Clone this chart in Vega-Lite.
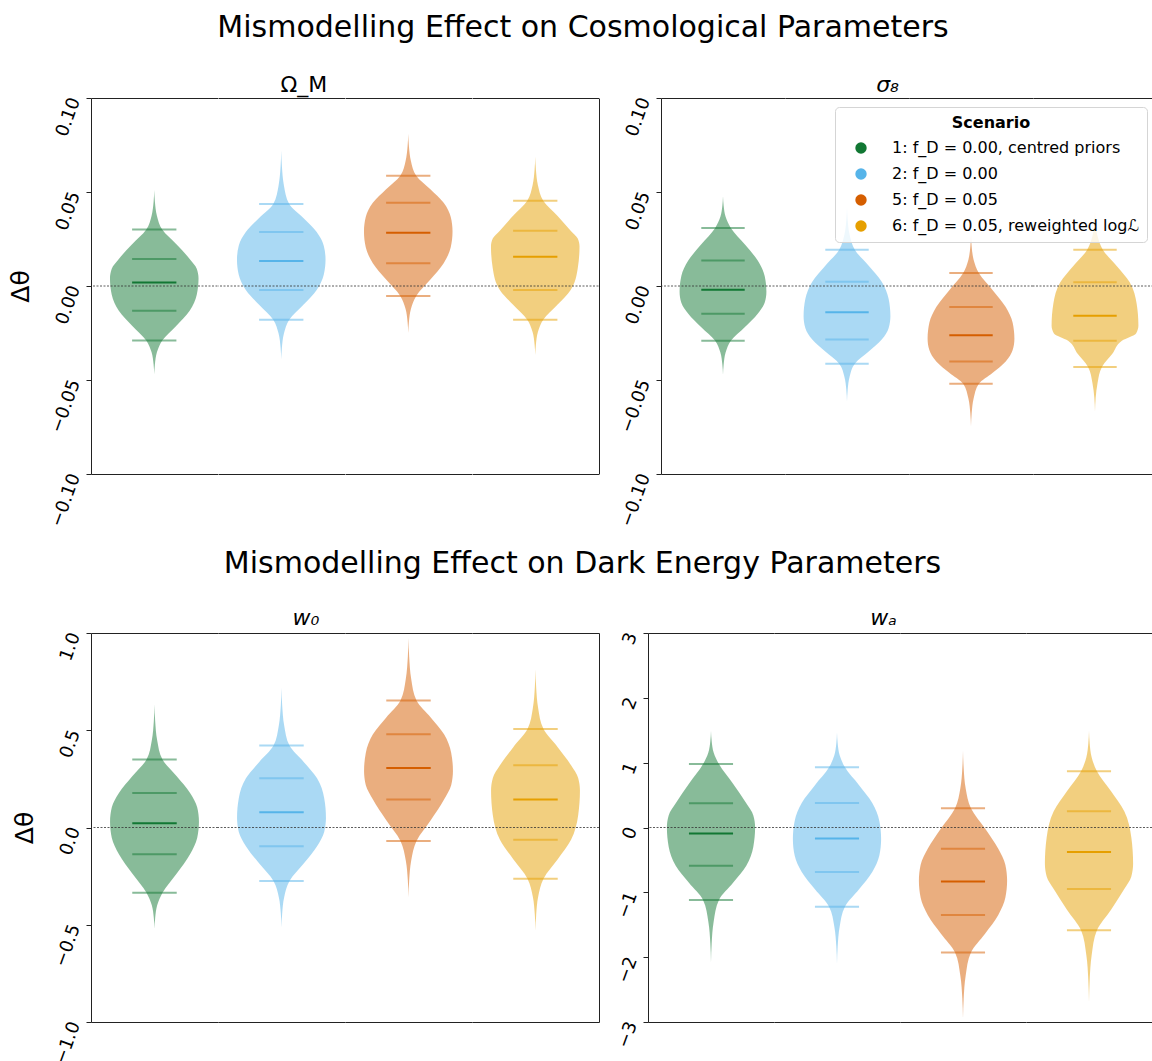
{
"$schema": "https://vega.github.io/schema/vega-lite/v6.json",
"padding": {"left": 8, "top": 12, "right": 0, "bottom": 0},
"config": {
 "font": "DejaVu Sans",
 "view": {"stroke": null},
 "axis": {"grid": false, "domainColor": "#222", "tickColor": "#222", "labelColor": "#000", "titleColor": "#000", "labelFontSize": 18, "tickSize": 5, "domainWidth": 1, "labelPadding": 11},
 "title": {"fontSize": 30, "fontWeight": "normal", "color": "#000", "anchor": "middle"},
 "legend": {"titleFontSize": 16, "titleFontWeight": "bold", "titleAnchor": "middle", "titleColor": "#000", "titlePadding": 9, "labelFontSize": 16, "labelColor": "#000", "symbolType": "circle", "symbolSize": 130, "symbolOpacity": 1, "symbolStrokeWidth": 0, "symbolOffset": 10, "fillColor": "rgba(255,255,255,0.8)", "strokeColor": "#d5d5d5", "cornerRadius": 4, "padding": 8, "rowPadding": 10, "labelLimit": 400, "labelOffset": 23}
},
"datasets": {
 "om": [
  {"s":"1","y":0.051,"d":0},{"s":"1","y":0.0447,"d":0.015},{"s":"1","y":0.0374,"d":0.06},{"s":"1","y":0.030,"d":0.18},{"s":"1","y":0.0222,"d":0.5},{"s":"1","y":0.0144,"d":0.8},{"s":"1","y":0.0092,"d":0.96},{"s":"1","y":0.004,"d":1},{"s":"1","y":-0.0046,"d":0.96},{"s":"1","y":-0.0131,"d":0.8},{"s":"1","y":-0.0211,"d":0.5},{"s":"1","y":-0.029,"d":0.18},{"s":"1","y":-0.0353,"d":0.06},{"s":"1","y":-0.0416,"d":0.015},{"s":"1","y":-0.047,"d":0},
  {"s":"2","y":0.072,"d":0},{"s":"2","y":0.0635,"d":0.015},{"s":"2","y":0.0535,"d":0.06},{"s":"2","y":0.0436,"d":0.18},{"s":"2","y":0.0362,"d":0.5},{"s":"2","y":0.0287,"d":0.8},{"s":"2","y":0.0214,"d":0.96},{"s":"2","y":0.014,"d":1},{"s":"2","y":0.006,"d":0.96},{"s":"2","y":-0.0021,"d":0.8},{"s":"2","y":-0.01,"d":0.5},{"s":"2","y":-0.0179,"d":0.18},{"s":"2","y":-0.0253,"d":0.06},{"s":"2","y":-0.0327,"d":0.015},{"s":"2","y":-0.039,"d":0},
  {"s":"5","y":0.081,"d":0},{"s":"5","y":0.0743,"d":0.015},{"s":"5","y":0.0665,"d":0.06},{"s":"5","y":0.0587,"d":0.18},{"s":"5","y":0.0515,"d":0.5},{"s":"5","y":0.0443,"d":0.8},{"s":"5","y":0.0367,"d":0.96},{"s":"5","y":0.029,"d":1},{"s":"5","y":0.0206,"d":0.96},{"s":"5","y":0.0121,"d":0.8},{"s":"5","y":0.0034,"d":0.5},{"s":"5","y":-0.0053,"d":0.18},{"s":"5","y":-0.0122,"d":0.06},{"s":"5","y":-0.0191,"d":0.015},{"s":"5","y":-0.025,"d":0},
  {"s":"6","y":0.0688,"d":0},{"s":"6","y":0.0618,"d":0.015},{"s":"6","y":0.0536,"d":0.06},{"s":"6","y":0.0454,"d":0.18},{"s":"6","y":0.0374,"d":0.5},{"s":"6","y":0.0294,"d":0.8},{"s":"6","y":0.0252,"d":0.96},{"s":"6","y":0.021,"d":1},{"s":"6","y":0.0095,"d":0.96},{"s":"6","y":-0.0021,"d":0.8},{"s":"6","y":-0.01,"d":0.5},{"s":"6","y":-0.0179,"d":0.18},{"s":"6","y":-0.0245,"d":0.06},{"s":"6","y":-0.0311,"d":0.015},{"s":"6","y":-0.0367,"d":0},
  {"s":"1","y":0.030,"l":"q"},{"s":"1","y":0.0144,"l":"q"},{"s":"1","y":0.0018,"l":"m"},{"s":"1","y":-0.0131,"l":"q"},{"s":"1","y":-0.029,"l":"q"},
  {"s":"2","y":0.0436,"l":"q"},{"s":"2","y":0.0287,"l":"q"},{"s":"2","y":0.0133,"l":"m"},{"s":"2","y":-0.0021,"l":"q"},{"s":"2","y":-0.0179,"l":"q"},
  {"s":"5","y":0.0587,"l":"q"},{"s":"5","y":0.0443,"l":"q"},{"s":"5","y":0.0283,"l":"m"},{"s":"5","y":0.0121,"l":"q"},{"s":"5","y":-0.0053,"l":"q"},
  {"s":"6","y":0.0454,"l":"q"},{"s":"6","y":0.0294,"l":"q"},{"s":"6","y":0.0156,"l":"m"},{"s":"6","y":-0.0021,"l":"q"},{"s":"6","y":-0.0179,"l":"q"}
 ],
 "s8": [
  {"s":"1","y":0.0477,"d":0},{"s":"1","y":0.0427,"d":0.015},{"s":"1","y":0.0368,"d":0.06},{"s":"1","y":0.0309,"d":0.18},{"s":"1","y":0.0222,"d":0.5},{"s":"1","y":0.0135,"d":0.8},{"s":"1","y":0.0053,"d":0.96},{"s":"1","y":-0.003,"d":1},{"s":"1","y":-0.0089,"d":0.96},{"s":"1","y":-0.0147,"d":0.8},{"s":"1","y":-0.0219,"d":0.5},{"s":"1","y":-0.0291,"d":0.18},{"s":"1","y":-0.0354,"d":0.06},{"s":"1","y":-0.0418,"d":0.015},{"s":"1","y":-0.0472,"d":0},
  {"s":"2","y":0.042,"d":0},{"s":"2","y":0.0352,"d":0.015},{"s":"2","y":0.0272,"d":0.06},{"s":"2","y":0.0193,"d":0.18},{"s":"2","y":0.0108,"d":0.5},{"s":"2","y":0.0023,"d":0.8},{"s":"2","y":-0.0069,"d":0.96},{"s":"2","y":-0.016,"d":1},{"s":"2","y":-0.0223,"d":0.96},{"s":"2","y":-0.0285,"d":0.8},{"s":"2","y":-0.0349,"d":0.5},{"s":"2","y":-0.0413,"d":0.18},{"s":"2","y":-0.0483,"d":0.06},{"s":"2","y":-0.0553,"d":0.015},{"s":"2","y":-0.0613,"d":0},
  {"s":"5","y":0.0273,"d":0},{"s":"5","y":0.0212,"d":0.015},{"s":"5","y":0.014,"d":0.06},{"s":"5","y":0.0069,"d":0.18},{"s":"5","y":-0.0022,"d":0.5},{"s":"5","y":-0.0112,"d":0.8},{"s":"5","y":-0.0196,"d":0.96},{"s":"5","y":-0.028,"d":1},{"s":"5","y":-0.0341,"d":0.96},{"s":"5","y":-0.0401,"d":0.8},{"s":"5","y":-0.0461,"d":0.5},{"s":"5","y":-0.052,"d":0.18},{"s":"5","y":-0.0599,"d":0.06},{"s":"5","y":-0.0678,"d":0.015},{"s":"5","y":-0.0746,"d":0},
  {"s":"6","y":0.0397,"d":0},{"s":"6","y":0.0336,"d":0.015},{"s":"6","y":0.0264,"d":0.06},{"s":"6","y":0.0193,"d":0.18},{"s":"6","y":0.0107,"d":0.5},{"s":"6","y":0.002,"d":0.8},{"s":"6","y":-0.0095,"d":0.96},{"s":"6","y":-0.021,"d":1},{"s":"6","y":-0.0251,"d":0.95},{"s":"6","y":-0.0291,"d":0.62},{"s":"6","y":-0.0361,"d":0.4},{"s":"6","y":-0.0431,"d":0.16},{"s":"6","y":-0.0514,"d":0.06},{"s":"6","y":-0.0596,"d":0.015},{"s":"6","y":-0.0667,"d":0},
  {"s":"1","y":0.0309,"l":"q"},{"s":"1","y":0.0135,"l":"q"},{"s":"1","y":-0.002,"l":"m"},{"s":"1","y":-0.0147,"l":"q"},{"s":"1","y":-0.0291,"l":"q"},
  {"s":"2","y":0.0193,"l":"q"},{"s":"2","y":0.0023,"l":"q"},{"s":"2","y":-0.014,"l":"m"},{"s":"2","y":-0.0285,"l":"q"},{"s":"2","y":-0.0413,"l":"q"},
  {"s":"5","y":0.0069,"l":"q"},{"s":"5","y":-0.0112,"l":"q"},{"s":"5","y":-0.0262,"l":"m"},{"s":"5","y":-0.0401,"l":"q"},{"s":"5","y":-0.052,"l":"q"},
  {"s":"6","y":0.0193,"l":"q"},{"s":"6","y":0.002,"l":"q"},{"s":"6","y":-0.0158,"l":"m"},{"s":"6","y":-0.0291,"l":"q"},{"s":"6","y":-0.0431,"l":"q"}
 ],
 "w0": [
  {"s":"1","y":0.632,"d":0},{"s":"1","y":0.547,"d":0.015},{"s":"1","y":0.448,"d":0.06},{"s":"1","y":0.349,"d":0.18},{"s":"1","y":0.2635,"d":0.5},{"s":"1","y":0.178,"d":0.8},{"s":"1","y":0.104,"d":0.96},{"s":"1","y":0.03,"d":1},{"s":"1","y":-0.0535,"d":0.96},{"s":"1","y":-0.137,"d":0.8},{"s":"1","y":-0.236,"d":0.5},{"s":"1","y":-0.335,"d":0.18},{"s":"1","y":-0.4,"d":0.06},{"s":"1","y":-0.465,"d":0.015},{"s":"1","y":-0.521,"d":0},
  {"s":"2","y":0.718,"d":0},{"s":"2","y":0.629,"d":0.015},{"s":"2","y":0.525,"d":0.06},{"s":"2","y":0.421,"d":0.18},{"s":"2","y":0.337,"d":0.5},{"s":"2","y":0.253,"d":0.8},{"s":"2","y":0.1515,"d":0.96},{"s":"2","y":0.05,"d":1},{"s":"2","y":-0.023,"d":0.96},{"s":"2","y":-0.096,"d":0.8},{"s":"2","y":-0.1855,"d":0.5},{"s":"2","y":-0.275,"d":0.18},{"s":"2","y":-0.358,"d":0.06},{"s":"2","y":-0.442,"d":0.015},{"s":"2","y":-0.513,"d":0},
  {"s":"5","y":0.974,"d":0},{"s":"5","y":0.878,"d":0.015},{"s":"5","y":0.765,"d":0.06},{"s":"5","y":0.653,"d":0.18},{"s":"5","y":0.566,"d":0.5},{"s":"5","y":0.479,"d":0.8},{"s":"5","y":0.3845,"d":0.96},{"s":"5","y":0.29,"d":1},{"s":"5","y":0.217,"d":0.96},{"s":"5","y":0.144,"d":0.8},{"s":"5","y":0.037,"d":0.5},{"s":"5","y":-0.07,"d":0.18},{"s":"5","y":-0.171,"d":0.06},{"s":"5","y":-0.272,"d":0.015},{"s":"5","y":-0.359,"d":0},
  {"s":"6","y":0.812,"d":0},{"s":"6","y":0.72,"d":0.015},{"s":"6","y":0.613,"d":0.06},{"s":"6","y":0.506,"d":0.18},{"s":"6","y":0.413,"d":0.5},{"s":"6","y":0.32,"d":0.8},{"s":"6","y":0.255,"d":0.96},{"s":"6","y":0.19,"d":1},{"s":"6","y":0.0635,"d":0.96},{"s":"6","y":-0.063,"d":0.8},{"s":"6","y":-0.163,"d":0.5},{"s":"6","y":-0.263,"d":0.18},{"s":"6","y":-0.356,"d":0.06},{"s":"6","y":-0.45,"d":0.015},{"s":"6","y":-0.53,"d":0},
  {"s":"1","y":0.349,"l":"q"},{"s":"1","y":0.178,"l":"q"},{"s":"1","y":0.022,"l":"m"},{"s":"1","y":-0.137,"l":"q"},{"s":"1","y":-0.335,"l":"q"},
  {"s":"2","y":0.421,"l":"q"},{"s":"2","y":0.253,"l":"q"},{"s":"2","y":0.079,"l":"m"},{"s":"2","y":-0.096,"l":"q"},{"s":"2","y":-0.275,"l":"q"},
  {"s":"5","y":0.653,"l":"q"},{"s":"5","y":0.479,"l":"q"},{"s":"5","y":0.306,"l":"m"},{"s":"5","y":0.144,"l":"q"},{"s":"5","y":-0.07,"l":"q"},
  {"s":"6","y":0.506,"l":"q"},{"s":"6","y":0.32,"l":"q"},{"s":"6","y":0.144,"l":"m"},{"s":"6","y":-0.063,"l":"q"},{"s":"6","y":-0.263,"l":"q"}
 ],
 "wa": [
  {"s":"1","y":1.487,"d":0},{"s":"1","y":1.335,"d":0.015},{"s":"1","y":1.157,"d":0.06},{"s":"1","y":0.979,"d":0.18},{"s":"1","y":0.6765,"d":0.5},{"s":"1","y":0.374,"d":0.8},{"s":"1","y":0.187,"d":0.96},{"s":"1","y":0.0,"d":1},{"s":"1","y":-0.295,"d":0.96},{"s":"1","y":-0.59,"d":0.8},{"s":"1","y":-0.854,"d":0.5},{"s":"1","y":-1.118,"d":0.18},{"s":"1","y":-1.454,"d":0.06},{"s":"1","y":-1.789,"d":0.015},{"s":"1","y":-2.077,"d":0},
  {"s":"2","y":1.46,"d":0},{"s":"2","y":1.3,"d":0.015},{"s":"2","y":1.114,"d":0.06},{"s":"2","y":0.928,"d":0.18},{"s":"2","y":0.6535,"d":0.5},{"s":"2","y":0.379,"d":0.8},{"s":"2","y":0.0995,"d":0.96},{"s":"2","y":-0.18,"d":1},{"s":"2","y":-0.4335,"d":0.96},{"s":"2","y":-0.687,"d":0.8},{"s":"2","y":-0.954,"d":0.5},{"s":"2","y":-1.221,"d":0.18},{"s":"2","y":-1.529,"d":0.06},{"s":"2","y":-1.836,"d":0.015},{"s":"2","y":-2.1,"d":0},
  {"s":"5","y":1.18,"d":0},{"s":"5","y":0.915,"d":0.015},{"s":"5","y":0.606,"d":0.06},{"s":"5","y":0.297,"d":0.18},{"s":"5","y":-0.0155,"d":0.5},{"s":"5","y":-0.328,"d":0.8},{"s":"5","y":-0.574,"d":0.96},{"s":"5","y":-0.82,"d":1},{"s":"5","y":-1.0845,"d":0.96},{"s":"5","y":-1.349,"d":0.8},{"s":"5","y":-1.6385,"d":0.5},{"s":"5","y":-1.928,"d":0.18},{"s":"5","y":-2.286,"d":0.06},{"s":"5","y":-2.643,"d":0.015},{"s":"5","y":-2.95,"d":0},
  {"s":"6","y":1.487,"d":0},{"s":"6","y":1.301,"d":0.015},{"s":"6","y":1.084,"d":0.06},{"s":"6","y":0.867,"d":0.18},{"s":"6","y":0.559,"d":0.5},{"s":"6","y":0.251,"d":0.8},{"s":"6","y":-0.1545,"d":0.96},{"s":"6","y":-0.56,"d":1},{"s":"6","y":-0.7545,"d":0.96},{"s":"6","y":-0.949,"d":0.8},{"s":"6","y":-1.267,"d":0.5},{"s":"6","y":-1.585,"d":0.18},{"s":"6","y":-1.972,"d":0.06},{"s":"6","y":-2.359,"d":0.015},{"s":"6","y":-2.69,"d":0},
  {"s":"1","y":0.979,"l":"q"},{"s":"1","y":0.374,"l":"q"},{"s":"1","y":-0.092,"l":"m"},{"s":"1","y":-0.59,"l":"q"},{"s":"1","y":-1.118,"l":"q"},
  {"s":"2","y":0.928,"l":"q"},{"s":"2","y":0.379,"l":"q"},{"s":"2","y":-0.169,"l":"m"},{"s":"2","y":-0.687,"l":"q"},{"s":"2","y":-1.221,"l":"q"},
  {"s":"5","y":0.297,"l":"q"},{"s":"5","y":-0.328,"l":"q"},{"s":"5","y":-0.831,"l":"m"},{"s":"5","y":-1.349,"l":"q"},{"s":"5","y":-1.928,"l":"q"},
  {"s":"6","y":0.867,"l":"q"},{"s":"6","y":0.251,"l":"q"},{"s":"6","y":-0.379,"l":"m"},{"s":"6","y":-0.949,"l":"q"},{"s":"6","y":-1.585,"l":"q"}
 ]
},
"spacing": 19,
"vconcat": [
 {
  "title": {"text": "Mismodelling Effect on Cosmological Parameters", "anchor": "middle", "offset": 31},
  "spacing": 18,
  "hconcat": [
   {
    "data": {"name": "om"},
    "title": {"text": "Ω_M", "fontSize": 22, "fontWeight": "normal", "offset": -2},
    "facet": {"column": {"field": "s", "type": "nominal", "sort": ["1","2","5","6"], "header": {"title": null, "labels": false}}},
    "spacing": {"column": 0},
    "bounds": "flush",
    "spec": {
     "width": 126.5, "height": 376,
     "layer": [
      {"transform": [{"filter": "datum.d != null"}],
       "mark": {"type": "area", "orient": "horizontal", "interpolate": "monotone", "opacity": 0.5},
       "encoding": {
        "y": {"field": "y", "type": "quantitative", "scale": {"domain": [-0.1, 0.1], "nice": false, "zero": false},
              "axis": {"values": [-0.1, -0.05, 0, 0.05, 0.1], "format": ".2f", "labelAngle": -70, "labelAlign": "right", "labelBaseline": "middle", "title": "Δθ", "titleFontSize": 25, "titleFontWeight": "normal", "titlePadding": 14}},
        "x": {"field": "d", "type": "quantitative", "stack": "center", "impute": null, "scale": {"domain": [-0.2143, 1.2143], "nice": false, "zero": false},
              "axis": {"ticks": false, "labels": false, "title": null, "domain": true}},
        "color": {"field": "s", "type": "nominal", "scale": {"domain": ["1","2","5","6"], "range": ["#117733","#56B4E9","#D55E00","#E69F00"]},
                  "legend": {"title": "Scenario", "orient": "none", "legendX": 744, "legendY": 9, "labelExpr": "datum.label == '1' ? '1: f_D = 0.00, centred priors' : datum.label == '2' ? '2: f_D = 0.00' : datum.label == '5' ? '5: f_D = 0.05' : '6: f_D = 0.05, reweighted logℒ'"}}
       }},
      {"transform": [{"filter": "datum.l != null"}],
       "mark": {"type": "rule", "strokeWidth": 2},
       "encoding": {
        "y": {"field": "y", "type": "quantitative", "axis": null},
        "x": {"datum": 0.25, "type": "quantitative", "axis": null},
        "x2": {"datum": 0.75},
        "color": {"field": "s", "type": "nominal"},
        "opacity": {"field": "l", "type": "nominal", "scale": {"domain": ["m","q"], "range": [1, 0.5]}, "legend": null}
       }},
      {"transform": [{"aggregate": [{"op": "count", "as": "n"}], "groupby": ["s"]}],
       "mark": {"type": "rule", "strokeDash": [2, 1.5], "strokeWidth": 0.8, "color": "#333"},
       "encoding": {"y": {"datum": 0, "type": "quantitative", "axis": null}}},
      {"transform": [{"aggregate": [{"op": "count", "as": "n"}], "groupby": ["s"]}],
       "mark": {"type": "point", "opacity": 0},
       "encoding": {
        "x": {"datum": 0, "type": "quantitative", "axis": {"orient": "top", "ticks": false, "labels": false, "title": null, "domain": true}},
        "y": {"datum": 0, "type": "quantitative", "axis": {"orient": "right", "ticks": false, "labels": false, "title": null, "domain": true}}
       }}
     ],
     "resolve": {"axis": {"x": "independent", "y": "independent"}}
    }
   },
   {
    "data": {"name": "s8"},
    "title": {"text": "σ₈", "fontSize": 22, "fontWeight": "normal", "fontStyle": "italic", "offset": -2},
    "facet": {"column": {"field": "s", "type": "nominal", "sort": ["1","2","5","6"], "header": {"title": null, "labels": false}}},
    "spacing": {"column": 0},
    "bounds": "flush",
    "spec": {
     "width": 124, "height": 376,
     "layer": [
      {"transform": [{"filter": "datum.d != null"}],
       "mark": {"type": "area", "orient": "horizontal", "interpolate": "monotone", "opacity": 0.5},
       "encoding": {
        "y": {"field": "y", "type": "quantitative", "scale": {"domain": [-0.1, 0.1], "nice": false, "zero": false},
              "axis": {"values": [-0.1, -0.05, 0, 0.05, 0.1], "format": ".2f", "labelAngle": -70, "labelAlign": "right", "labelBaseline": "middle", "title": null}},
        "x": {"field": "d", "type": "quantitative", "stack": "center", "impute": null, "scale": {"domain": [-0.2143, 1.2143], "nice": false, "zero": false},
              "axis": {"ticks": false, "labels": false, "title": null, "domain": true}},
        "color": {"field": "s", "type": "nominal", "scale": {"domain": ["1","2","5","6"], "range": ["#117733","#56B4E9","#D55E00","#E69F00"]},
                  "legend": {"title": "Scenario", "orient": "none", "legendX": 744, "legendY": 9, "labelExpr": "datum.label == '1' ? '1: f_D = 0.00, centred priors' : datum.label == '2' ? '2: f_D = 0.00' : datum.label == '5' ? '5: f_D = 0.05' : '6: f_D = 0.05, reweighted logℒ'"}}
       }},
      {"transform": [{"filter": "datum.l != null"}],
       "mark": {"type": "rule", "strokeWidth": 2},
       "encoding": {
        "y": {"field": "y", "type": "quantitative", "axis": null},
        "x": {"datum": 0.25, "type": "quantitative", "axis": null},
        "x2": {"datum": 0.75},
        "color": {"field": "s", "type": "nominal"},
        "opacity": {"field": "l", "type": "nominal", "scale": {"domain": ["m","q"], "range": [1, 0.5]}, "legend": null}
       }},
      {"transform": [{"aggregate": [{"op": "count", "as": "n"}], "groupby": ["s"]}],
       "mark": {"type": "rule", "strokeDash": [2, 1.5], "strokeWidth": 0.8, "color": "#333"},
       "encoding": {"y": {"datum": 0, "type": "quantitative", "axis": null}}},
      {"transform": [{"aggregate": [{"op": "count", "as": "n"}], "groupby": ["s"]}],
       "mark": {"type": "point", "opacity": 0},
       "encoding": {
        "x": {"datum": 0, "type": "quantitative", "axis": {"orient": "top", "ticks": false, "labels": false, "title": null, "domain": true}},
        "y": {"datum": 0, "type": "quantitative", "axis": {"orient": "right", "ticks": false, "labels": false, "title": null, "domain": true}}
       }}
     ],
     "resolve": {"axis": {"x": "independent", "y": "independent"}}
    }
   }
  ]
 },
 {
  "title": {"text": "Mismodelling Effect on Dark Energy Parameters", "anchor": "middle", "offset": 28},
  "spacing": 14,
  "hconcat": [
   {
    "data": {"name": "w0"},
    "title": {"text": "w₀", "fontSize": 22, "fontWeight": "normal", "fontStyle": "italic", "offset": 0},
    "facet": {"column": {"field": "s", "type": "nominal", "sort": ["1","2","5","6"], "header": {"title": null, "labels": false}}},
    "spacing": {"column": 0},
    "bounds": "flush",
    "spec": {
     "width": 127, "height": 389,
     "layer": [
      {"transform": [{"filter": "datum.d != null"}],
       "mark": {"type": "area", "orient": "horizontal", "interpolate": "monotone", "opacity": 0.5},
       "encoding": {
        "y": {"field": "y", "type": "quantitative", "scale": {"domain": [-1, 1], "nice": false, "zero": false},
              "axis": {"values": [-1, -0.5, 0, 0.5, 1], "format": ".1f", "labelAngle": -70, "labelAlign": "right", "labelBaseline": "middle", "title": "Δθ", "titleFontSize": 25, "titleFontWeight": "normal", "titlePadding": 14}},
        "x": {"field": "d", "type": "quantitative", "stack": "center", "impute": null, "scale": {"domain": [-0.2143, 1.2143], "nice": false, "zero": false},
              "axis": {"ticks": false, "labels": false, "title": null, "domain": true}},
        "color": {"field": "s", "type": "nominal", "scale": {"domain": ["1","2","5","6"], "range": ["#117733","#56B4E9","#D55E00","#E69F00"]},
                  "legend": {"title": "Scenario", "orient": "none", "legendX": 744, "legendY": 9, "labelExpr": "datum.label == '1' ? '1: f_D = 0.00, centred priors' : datum.label == '2' ? '2: f_D = 0.00' : datum.label == '5' ? '5: f_D = 0.05' : '6: f_D = 0.05, reweighted logℒ'"}}
       }},
      {"transform": [{"filter": "datum.l != null"}],
       "mark": {"type": "rule", "strokeWidth": 2},
       "encoding": {
        "y": {"field": "y", "type": "quantitative", "axis": null},
        "x": {"datum": 0.25, "type": "quantitative", "axis": null},
        "x2": {"datum": 0.75},
        "color": {"field": "s", "type": "nominal"},
        "opacity": {"field": "l", "type": "nominal", "scale": {"domain": ["m","q"], "range": [1, 0.5]}, "legend": null}
       }},
      {"transform": [{"aggregate": [{"op": "count", "as": "n"}], "groupby": ["s"]}],
       "mark": {"type": "rule", "strokeDash": [2, 1.5], "strokeWidth": 0.8, "color": "#333"},
       "encoding": {"y": {"datum": 0, "type": "quantitative", "axis": null}}},
      {"transform": [{"aggregate": [{"op": "count", "as": "n"}], "groupby": ["s"]}],
       "mark": {"type": "point", "opacity": 0},
       "encoding": {
        "x": {"datum": 0, "type": "quantitative", "axis": {"orient": "top", "ticks": false, "labels": false, "title": null, "domain": true}},
        "y": {"datum": 0, "type": "quantitative", "axis": {"orient": "right", "ticks": false, "labels": false, "title": null, "domain": true}}
       }}
     ],
     "resolve": {"axis": {"x": "independent", "y": "independent"}}
    }
   },
   {
    "data": {"name": "wa"},
    "title": {"text": "wₐ", "fontSize": 22, "fontWeight": "normal", "fontStyle": "italic", "offset": 0},
    "facet": {"column": {"field": "s", "type": "nominal", "sort": ["1","2","5","6"], "header": {"title": null, "labels": false}}},
    "spacing": {"column": 0},
    "bounds": "flush",
    "spec": {
     "width": 126, "height": 389,
     "layer": [
      {"transform": [{"filter": "datum.d != null"}],
       "mark": {"type": "area", "orient": "horizontal", "interpolate": "monotone", "opacity": 0.5},
       "encoding": {
        "y": {"field": "y", "type": "quantitative", "scale": {"domain": [-3, 3], "nice": false, "zero": false},
              "axis": {"values": [-3, -2, -1, 0, 1, 2, 3], "format": "d", "labelAngle": -70, "labelAlign": "right", "labelBaseline": "middle", "title": null}},
        "x": {"field": "d", "type": "quantitative", "stack": "center", "impute": null, "scale": {"domain": [-0.2143, 1.2143], "nice": false, "zero": false},
              "axis": {"ticks": false, "labels": false, "title": null, "domain": true}},
        "color": {"field": "s", "type": "nominal", "scale": {"domain": ["1","2","5","6"], "range": ["#117733","#56B4E9","#D55E00","#E69F00"]},
                  "legend": {"title": "Scenario", "orient": "none", "legendX": 744, "legendY": 9, "labelExpr": "datum.label == '1' ? '1: f_D = 0.00, centred priors' : datum.label == '2' ? '2: f_D = 0.00' : datum.label == '5' ? '5: f_D = 0.05' : '6: f_D = 0.05, reweighted logℒ'"}}
       }},
      {"transform": [{"filter": "datum.l != null"}],
       "mark": {"type": "rule", "strokeWidth": 2},
       "encoding": {
        "y": {"field": "y", "type": "quantitative", "axis": null},
        "x": {"datum": 0.25, "type": "quantitative", "axis": null},
        "x2": {"datum": 0.75},
        "color": {"field": "s", "type": "nominal"},
        "opacity": {"field": "l", "type": "nominal", "scale": {"domain": ["m","q"], "range": [1, 0.5]}, "legend": null}
       }},
      {"transform": [{"aggregate": [{"op": "count", "as": "n"}], "groupby": ["s"]}],
       "mark": {"type": "rule", "strokeDash": [2, 1.5], "strokeWidth": 0.8, "color": "#333"},
       "encoding": {"y": {"datum": 0, "type": "quantitative", "axis": null}}},
      {"transform": [{"aggregate": [{"op": "count", "as": "n"}], "groupby": ["s"]}],
       "mark": {"type": "point", "opacity": 0},
       "encoding": {
        "x": {"datum": 0, "type": "quantitative", "axis": {"orient": "top", "ticks": false, "labels": false, "title": null, "domain": true}},
        "y": {"datum": 0, "type": "quantitative", "axis": {"orient": "right", "ticks": false, "labels": false, "title": null, "domain": true}}
       }}
     ],
     "resolve": {"axis": {"x": "independent", "y": "independent"}}
    }
   }
  ]
 }
]
}
